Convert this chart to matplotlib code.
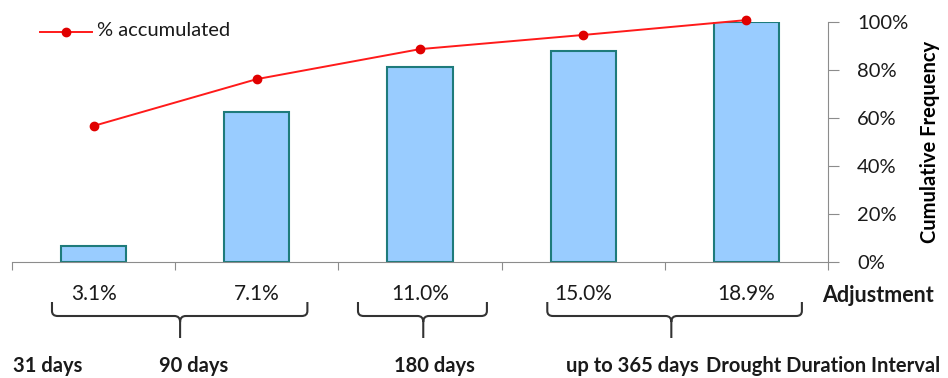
import matplotlib
matplotlib.use("Agg")
import matplotlib.pyplot as plt
from matplotlib.transforms import blended_transform_factory
from matplotlib.ticker import FuncFormatter
from matplotlib.path import Path
from matplotlib.patches import PathPatch

plt.rcParams['font.family'] = ['Lato', 'DejaVu Sans']

# Cumulative frequency by drought duration interval
positions = [0, 1, 2, 3, 4]
bar_values = [6.5, 62.5, 81.2, 88.0, 100.0]
accumulated = [56.7, 76.2, 88.7, 94.6, 100.8]
adjustment_labels = ["3.1%", "7.1%", "11.0%", "15.0%", "18.9%"]
y_ticks = [0, 20, 40, 60, 80, 100]

# Groups of intervals under each brace: (left, right, stem)
brace_spans = [(-0.255, 1.31, 0.53), (1.62, 2.41, 2.02), (2.78, 4.34, 3.54)]
interval_labels = ["31 days", "90 days", "180 days", "up to 365 days",
                   "Drought Duration Interval"]
interval_x = [-0.28, 0.61, 2.09, 3.30, 4.47]

W, H = 948, 378
fig = plt.figure(figsize=(W / 100, H / 100), dpi=100)
ax = fig.add_axes([12 / W, (H - 262) / H, 816 / W, 240 / H])

ax.bar(positions, bar_values, width=0.4, color="#99CCFF",
       edgecolor="#1E7B7B", linewidth=1.5, zorder=2)
line, = ax.plot(positions, accumulated, color="#FF1A1A", lw=1.4, marker="o",
                ms=6, mfc="#E00000", mec="#E00000", clip_on=False, zorder=3)

ax.set_xlim(-0.5, 4.5)
ax.set_ylim(0, 100)
ax.set_yticks(y_ticks)
ax.yaxis.set_major_formatter(FuncFormatter(lambda v, p: f"{v:.0f}%"))
ax.yaxis.tick_right()
ax.yaxis.set_label_position("right")
ax.set_xticks([-0.5, 0.5, 1.5, 2.5, 3.5, 4.5])
ax.set_xticklabels([])
for s in ["top", "left"]:
    ax.spines[s].set_visible(False)
ax.spines["bottom"].set_color("#8C8C8C")
ax.spines["right"].set_color("#8C8C8C")
ax.tick_params(axis="x", length=6, color="#8C8C8C", direction="out")
ax.tick_params(axis="y", length=8, color="#8C8C8C", direction="out",
               labelsize=14.5, pad=13, labelcolor="#1A1A1A")
ax.set_ylabel("Cumulative Frequency", fontsize=14.5, fontweight="bold",
              labelpad=8)


def fx(px):
    return px / W


def fy(py):
    return (H - py) / H


# Legend entry for the accumulated line
fig.lines.append(plt.Line2D([fx(40), fx(92)], [fy(32), fy(32)],
                            transform=fig.transFigure, color="#FF1A1A",
                            lw=1.4))
fig.lines.append(plt.Line2D([fx(66)], [fy(32)], transform=fig.transFigure,
                            marker="o", ms=6, color="#E00000"))
fig.text(fx(97), fy(31), "% accumulated", ha="left", va="center",
         fontsize=14.5, color="#1A1A1A")

tr = blended_transform_factory(ax.transData, fig.transFigure)

for x, lab in zip(positions, adjustment_labels):
    ax.text(x, fy(294), lab, transform=tr, ha="center", va="center",
            fontsize=15, color="#1A1A1A")
fig.text(fx(822), fy(296), "Adjustment", ha="left", va="center",
         fontsize=15.5, fontweight="bold", color="#1A1A1A")

# Curly braces grouping the intervals
r = 0.035
for left, right, stem in brace_spans:
    y0, y1, y2, y3 = fy(302), fy(316), fy(322), fy(338)
    yc = fy(311)
    verts = [(left, y0), (left, yc), (left, y1), (left + r, y1),
             (stem - r, y1), (stem, y1), (stem, y2), (stem, y3),
             (stem, y2), (stem, y1), (stem + r, y1),
             (right - r, y1), (right, y1), (right, yc), (right, y0)]
    codes = [Path.MOVETO, Path.LINETO, Path.CURVE3, Path.CURVE3,
             Path.LINETO, Path.CURVE3, Path.CURVE3, Path.LINETO,
             Path.MOVETO, Path.CURVE3, Path.CURVE3,
             Path.LINETO, Path.CURVE3, Path.CURVE3, Path.LINETO]
    ax.add_patch(PathPatch(Path(verts, codes), transform=tr, fill=False,
                           edgecolor="#333333", lw=1.5, clip_on=False))

for x, lab in zip(interval_x, interval_labels):
    ax.text(x, fy(366), lab, transform=tr, ha="center", va="center",
            fontsize=14.5, fontweight="bold", color="#1A1A1A")

fig.savefig("out.png", dpi=100)
